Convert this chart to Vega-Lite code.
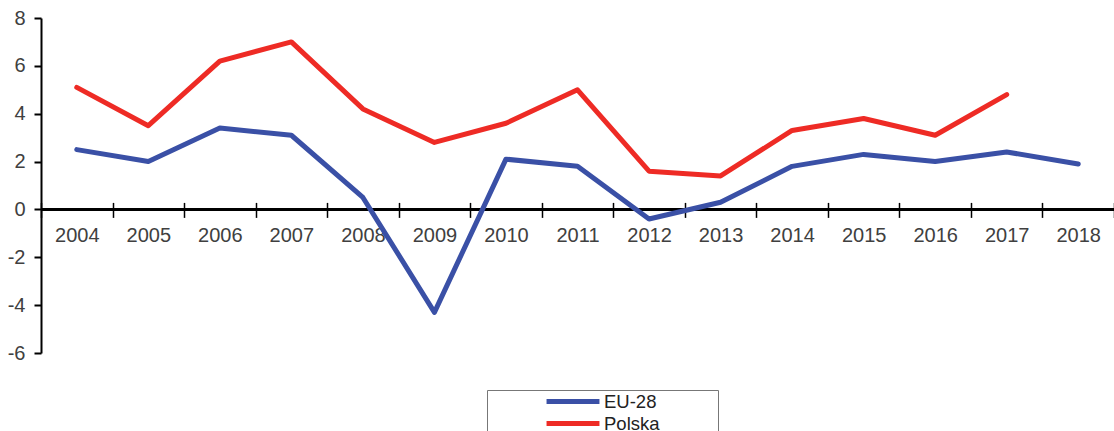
{
  "$schema": "https://vega.github.io/schema/vega-lite/v6.json",
  "width": 1073,
  "height": 335,
  "autosize": {"type": "none"},
  "padding": {"left": 41, "top": 18, "right": 0, "bottom": 78},
  "config": {"view": {"stroke": null}, "font": "Liberation Sans"},
  "data": {"values": [
    {"year": "2004", "series": "EU-28", "value": 2.5},
    {"year": "2005", "series": "EU-28", "value": 2.0},
    {"year": "2006", "series": "EU-28", "value": 3.4},
    {"year": "2007", "series": "EU-28", "value": 3.1},
    {"year": "2008", "series": "EU-28", "value": 0.5},
    {"year": "2009", "series": "EU-28", "value": -4.3},
    {"year": "2010", "series": "EU-28", "value": 2.1},
    {"year": "2011", "series": "EU-28", "value": 1.8},
    {"year": "2012", "series": "EU-28", "value": -0.4},
    {"year": "2013", "series": "EU-28", "value": 0.3},
    {"year": "2014", "series": "EU-28", "value": 1.8},
    {"year": "2015", "series": "EU-28", "value": 2.3},
    {"year": "2016", "series": "EU-28", "value": 2.0},
    {"year": "2017", "series": "EU-28", "value": 2.4},
    {"year": "2018", "series": "EU-28", "value": 1.9},
    {"year": "2004", "series": "Polska", "value": 5.1},
    {"year": "2005", "series": "Polska", "value": 3.5},
    {"year": "2006", "series": "Polska", "value": 6.2},
    {"year": "2007", "series": "Polska", "value": 7.0},
    {"year": "2008", "series": "Polska", "value": 4.2},
    {"year": "2009", "series": "Polska", "value": 2.8},
    {"year": "2010", "series": "Polska", "value": 3.6},
    {"year": "2011", "series": "Polska", "value": 5.0},
    {"year": "2012", "series": "Polska", "value": 1.6},
    {"year": "2013", "series": "Polska", "value": 1.4},
    {"year": "2014", "series": "Polska", "value": 3.3},
    {"year": "2015", "series": "Polska", "value": 3.8},
    {"year": "2016", "series": "Polska", "value": 3.1},
    {"year": "2017", "series": "Polska", "value": 4.8}
  ]},
  "layer": [
    {
      "mark": {"type": "rule", "color": "black", "strokeWidth": 2.5},
      "encoding": {"y": {"datum": 0, "type": "quantitative", "title": null}}
    },
    {
      "mark": {"type": "line", "strokeWidth": 5, "strokeCap": "round", "strokeJoin": "round"},
      "encoding": {
        "x": {
          "field": "year", "type": "ordinal",
          "scale": {"type": "band", "paddingInner": 0, "paddingOuter": 0},
          "axis": {
            "orient": "bottom", "offset": -150.6, "domain": false,
            "ticks": true, "tickSize": 15, "tickWidth": 1.5, "tickColor": "black",
            "tickBand": "extent", "labelAngle": 0, "labelFontSize": 20,
            "labelColor": "#404040", "labelPadding": 8, "title": null
          }
        },
        "y": {
          "field": "value", "type": "quantitative",
          "scale": {"domain": [-6, 8], "nice": false, "zero": false},
          "axis": {
            "values": [-6, -4, -2, 0, 2, 4, 6, 8], "grid": false,
            "tickSize": 7, "tickWidth": 2, "tickColor": "black",
            "domainColor": "black", "domainWidth": 2,
            "labelExpr": "replace(datum.label, '\u2212', '-')",
            "labelFontSize": 20, "labelColor": "#404040", "labelPadding": 9, "title": null
          }
        },
        "color": {
          "field": "series", "type": "nominal",
          "scale": {"domain": ["EU-28", "Polska"], "range": ["#3a50a6", "#ee2b25"]},
          "legend": {
            "orient": "none", "legendX": 446, "legendY": 372,
            "title": "\u00a0", "titleOrient": "right", "titlePadding": 58, "titleFontSize": 2,
            "strokeColor": "#777", "padding": 0, "symbolType": "M-2.94,0H2.94",
            "symbolStrokeWidth": 5, "symbolSize": 324, "symbolOffset": 74.5,
            "labelFontSize": 18.5, "labelColor": "#222", "labelOffset": 19.5, "rowPadding": 0
          }
        }
      }
    }
  ]
}
